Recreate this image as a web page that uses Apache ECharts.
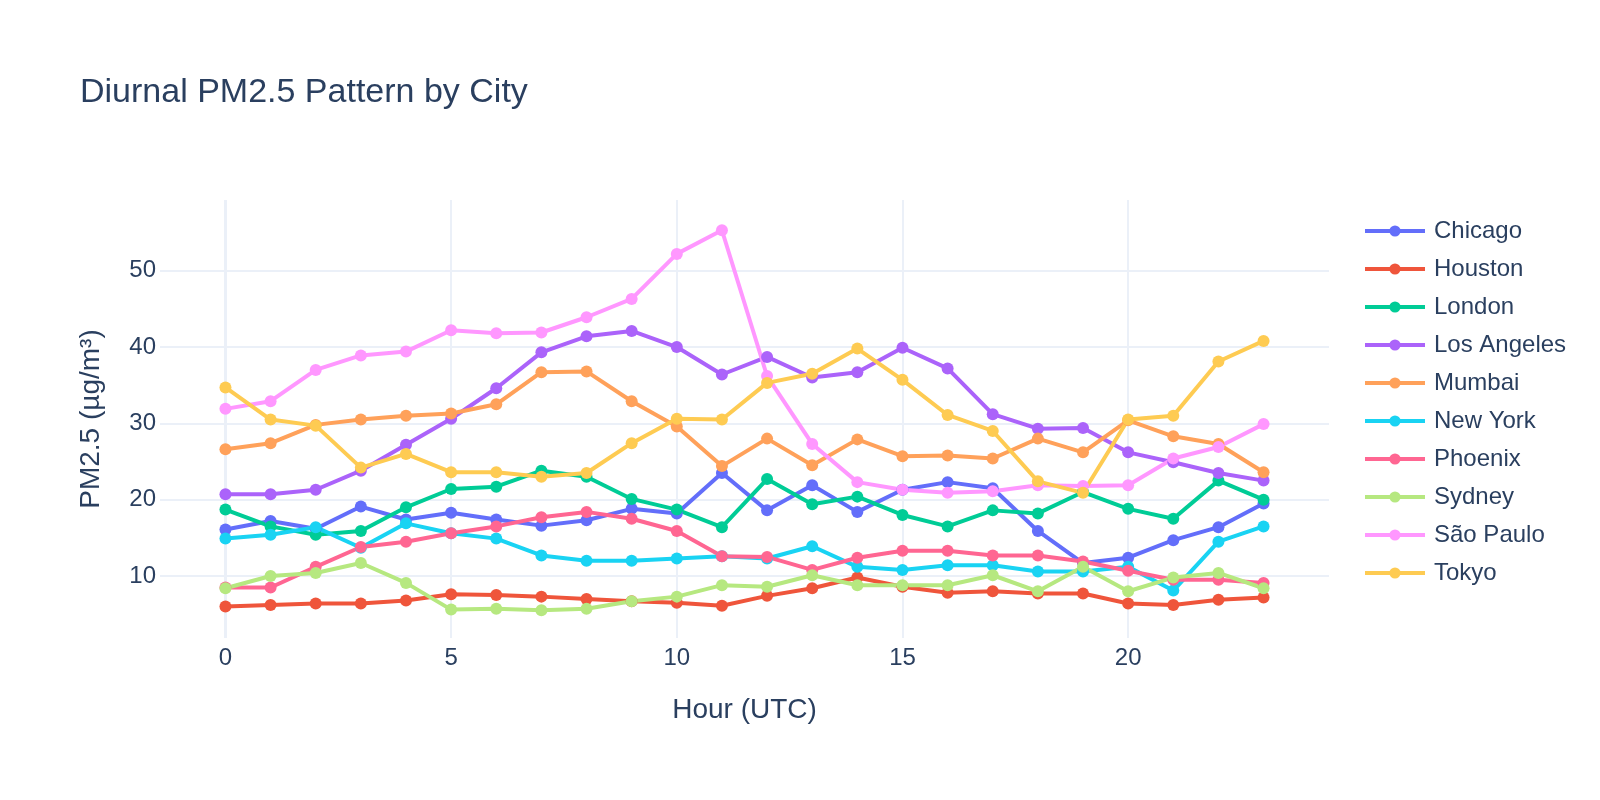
<!DOCTYPE html>
<html>
<head>
<meta charset="utf-8">
<script src="https://cdn.jsdelivr.net/npm/echarts@6/dist/echarts.min.js"></script>
<style>
  html, body { margin: 0; padding: 0; background: #fff; }
  #main { width: 1600px; height: 800px; }
</style>
</head>
<body>
<div id="main"></div>
<script>
// hours of the day (UTC)
const hours = [0,1,2,3,4,5,6,7,8,9,10,11,12,13,14,15,16,17,18,19,20,21,22,23]

// PM2.5 per city
const chicago   = [16.1,17.2,16.2,19.1,17.4,18.3,17.4,16.6,17.3,18.8,18.2,23.5,18.6,21.9,18.4,21.3,22.3,21.5,15.9,11.7,12.4,14.7,16.4,19.5]
const houston   = [6.0,6.2,6.4,6.4,6.8,7.6,7.5,7.3,7.0,6.7,6.5,6.1,7.4,8.4,9.8,8.6,7.8,8.0,7.7,7.7,6.4,6.2,6.9,7.2]
const london    = [18.7,16.5,15.4,15.9,19.0,21.4,21.7,23.8,23.0,20.1,18.7,16.4,22.7,19.4,20.4,18.0,16.5,18.6,18.2,21.0,18.8,17.5,22.5,20.0]
const losAngeles= [20.7,20.7,21.3,23.8,27.2,30.6,34.6,39.3,41.4,42.1,40.0,36.4,38.7,36.0,36.7,39.9,37.2,31.2,29.3,29.4,26.2,24.9,23.5,22.5]
const mumbai    = [26.6,27.4,29.8,30.5,31.0,31.3,32.5,36.7,36.8,32.9,29.6,24.4,28.0,24.5,27.9,25.7,25.8,25.4,28.0,26.2,30.4,28.3,27.3,23.6]
const newYork   = [14.9,15.4,16.4,13.7,16.9,15.6,14.9,12.7,12.0,12.0,12.3,12.6,12.3,13.9,11.2,10.8,11.4,11.4,10.6,10.6,11.2,8.1,14.5,16.5]
const phoenix   = [8.5,8.5,11.2,13.8,14.5,15.6,16.5,17.7,18.4,17.5,15.9,12.6,12.5,10.8,12.4,13.3,13.3,12.7,12.7,11.9,10.7,9.5,9.5,9.1]
const sydney    = [8.4,10.0,10.4,11.7,9.1,5.6,5.7,5.5,5.7,6.7,7.3,8.8,8.6,10.1,8.8,8.8,8.8,10.1,8.0,11.2,8.0,9.8,10.4,8.4]
const saoPaulo  = [31.9,32.9,37.0,38.9,39.4,42.2,41.8,41.9,43.9,46.3,52.2,55.3,36.2,27.3,22.3,21.3,20.9,21.1,21.9,21.8,21.9,25.4,26.9,29.9]
const tokyo     = [34.7,30.5,29.7,24.2,26.0,23.6,23.6,23.0,23.5,27.4,30.6,30.5,35.3,36.5,39.8,35.7,31.1,29.0,22.4,20.9,30.5,31.0,38.1,40.8]

const cities = ['Chicago','Houston','London','Los Angeles','Mumbai','New York','Phoenix','Sydney','São Paulo','Tokyo']
const values = [chicago,houston,london,losAngeles,mumbai,newYork,phoenix,sydney,saoPaulo,tokyo]
const colors = ['#636efa','#EF553B','#00cc96','#ab63fa','#FFA15A','#19d3f3','#FF6692','#B6E880','#FF97FF','#FECB52']

const xTicks = [0,5,10,15,20]
const yTicks = [10,20,30,40,50]

const font = '"Liberation Sans", Arial, sans-serif'
const ink = '#2a3f5f'
const grid = '#ebf0f8'

const chart = echarts.init(document.getElementById('main'), null, {renderer:'canvas'})

const series = cities.map((name,i)=>{
  const s = {
    name: name,
    type: 'line',
    data: hours.map((h,j)=>[h, values[i][j]]),
    symbol: 'circle',
    symbolSize: 12,
    showSymbol: true,
    lineStyle: {width: 4, color: colors[i]},
    itemStyle: {color: colors[i]},
    emphasis: {disabled: true},
    animation: false
  }
  if(i===0){
    // zero line of the x axis
    s.markLine = {
      silent: true,
      symbol: 'none',
      label: {show: false},
      lineStyle: {color: grid, width: 3, type: 'solid'},
      data: [{xAxis: 0}],
      z: 0
    }
  }
  return s
})

chart.setOption({
  backgroundColor: '#fff',
  animation: false,
  color: colors,
  title: {
    text: 'Diurnal PM2.5 Pattern by City',
    left: 75,
    top: 71,
    textStyle: {fontFamily: font, fontSize: 34, fontWeight: 'normal', color: ink}
  },
  legend: {
    orient: 'vertical',
    left: 1358,
    top: 214,
    itemWidth: 60,
    itemHeight: 14,
    itemGap: 14,
    lineStyle: {width: 4},
    textStyle: {fontFamily: font, fontSize: 24, color: ink, padding: [0,0,0,4]},
    data: cities
  },
  grid: {left: 160, right: 271, top: 200, bottom: 162, containLabel: false},
  xAxis: {
    type: 'value',
    min: -1.45,
    max: 24.45,
    name: 'Hour (UTC)',
    nameLocation: 'middle',
    nameGap: 58,
    nameTextStyle: {fontFamily: font, fontSize: 28, color: ink},
    axisLine: {show: false},
    axisTick: {show: false, customValues: xTicks},
    axisLabel: {customValues: xTicks, fontFamily: font, fontSize: 24, color: ink, margin: 8},
    splitLine: {show: true, lineStyle: {color: grid, width: 2}}
  },
  yAxis: {
    type: 'value',
    min: 1.88,
    max: 59.26,
    name: 'PM2.5 (µg/m³)',
    nameLocation: 'middle',
    nameGap: 55,
    nameTextStyle: {fontFamily: font, fontSize: 28, color: ink},
    axisLine: {show: false},
    axisTick: {show: false, customValues: yTicks},
    axisLabel: {customValues: yTicks, fontFamily: font, fontSize: 24, color: ink, margin: 4},
    splitLine: {show: true, lineStyle: {color: grid, width: 2}}
  },
  series: series
})
</script>
</body>
</html>
